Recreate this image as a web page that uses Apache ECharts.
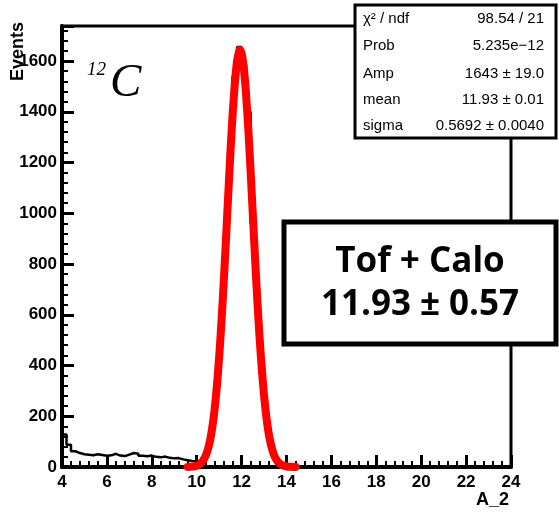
<!DOCTYPE html>
<html><head><meta charset="utf-8">
<script src="https://cdn.jsdelivr.net/npm/echarts@6/dist/echarts.min.js"></script>
<style>html,body{margin:0;padding:0;background:#fff}#c{width:559px;height:512px}</style>
</head><body><div id="c"></div>
<script>
// Histogram: 100 bins of width 0.2 from 4 to 24
const binLow = 4;
const binWidth = 0.2;
const counts = [
  128, 88, 62, 55, 50, 48, 46, 50, 47, 44,
  46, 52, 45, 43, 49, 55, 52, 44, 42, 45,
  40, 38, 41, 36, 34, 35, 30, 27, 24, 22,
  24, 36, 72, 150, 318, 562, 896, 1250, 1540, 1655,
  1585, 1400, 962, 660, 400, 205, 95, 42, 16, 7,
  4, 3, 2, 1, 2, 1, 0, 1, 0, 0,
  1, 0, 0, 0, 0, 0, 0, 0, 0, 0,
  0, 0, 0, 0, 0, 0, 0, 0, 0, 0,
  0, 0, 0, 0, 0, 0, 0, 0, 0, 0,
  0, 0, 0, 0, 0, 0, 0, 0, 0, 0
];
// Gaussian fit curve, read at these x positions
const fitX = [9.6, 9.7, 9.8, 9.9, 10.0, 10.1, 10.2, 10.3, 10.4, 10.5, 10.6, 10.7, 10.8, 10.9,
  11.0, 11.1, 11.2, 11.3, 11.4, 11.5, 11.6, 11.7, 11.8, 11.9, 11.93, 12.0, 12.1, 12.2, 12.3, 12.4,
  12.5, 12.6, 12.7, 12.8, 12.9, 13.0, 13.1, 13.2, 13.3, 13.4, 13.5, 13.6, 13.7, 13.8, 13.9,
  14.0, 14.1, 14.2, 14.3, 14.4];
const fitY = [0.4, 0.8, 1.5, 2.8, 5.2, 9.4, 16.2, 27.2, 44.3, 70, 107, 159, 229, 320,
  432, 567, 722, 891, 1065, 1235, 1389, 1514, 1601, 1641, 1643, 1631, 1571, 1468, 1330, 1168,
  995, 822, 658, 511, 385, 281, 199, 136, 90.7, 58.5, 36.6, 22.2, 13.1, 7.4, 4.1,
  2.2, 1.1, 0.6, 0.3, 0.1];
const statNames = ['χ² / ndf', 'Prob', 'Amp', 'mean', 'sigma'];
const statValues = ['98.54 / 21', '5.235e\u221212', '1643 \u00b1 19.0', '11.93 \u00b1 0.01', '0.5692 \u00b1 0.0040'];
const boxLines = ['Tof + Calo', '11.93 \u00b1 0.57'];

const histData = [];
for (let i = 0; i <= counts.length; i++) {
  histData.push([binLow + i * binWidth, counts[Math.min(i, counts.length - 1)]]);
}
const fitData = fitX.map((x, i) => [x, fitY[i]]);

const statY = [19, 46, 74, 100, 126];
const graphics = [];
// stats box
graphics.push({type: 'rect', z: 100, shape: {x: 355, y: 5, width: 201, height: 133},
  style: {fill: '#fff', stroke: '#000', lineWidth: 3}});
statNames.forEach((n, i) => {
  graphics.push({type: 'text', z: 101, style: {text: n, x: 363, y: statY[i], fill: '#000',
    font: '15px "Liberation Sans"', textAlign: 'left', verticalAlign: 'middle', textVerticalAlign: 'middle'}});
  graphics.push({type: 'text', z: 101, style: {text: statValues[i], x: 544, y: statY[i], fill: '#000',
    font: '15px "Liberation Sans"', textAlign: 'right', verticalAlign: 'middle', textVerticalAlign: 'middle'}});
});
// Tof + Calo box
graphics.push({type: 'rect', z: 100, shape: {x: 284, y: 222, width: 272, height: 122},
  style: {fill: '#fff', stroke: '#000', lineWidth: 5}});
graphics.push({type: 'text', z: 101, style: {text: boxLines[0], x: 420, y: 262, fill: '#000',
  font: 'bold 35px "Open Sans"', textAlign: 'center', verticalAlign: 'middle', textVerticalAlign: 'middle'}});
graphics.push({type: 'text', z: 101, style: {text: boxLines[1], x: 420, y: 305, fill: '#000',
  font: 'bold 35px "Open Sans"', textAlign: 'center', verticalAlign: 'middle', textVerticalAlign: 'middle'}});
// 12C label
graphics.push({type: 'text', z: 101, style: {text: '12', x: 87, y: 70, fill: '#000',
  font: 'italic 19px "Liberation Serif"', textAlign: 'left', verticalAlign: 'middle', textVerticalAlign: 'middle'}});
graphics.push({type: 'text', z: 101, style: {text: 'C', x: 110, y: 84, fill: '#000',
  font: 'italic 47px "Liberation Serif"', textAlign: 'left', verticalAlign: 'middle', textVerticalAlign: 'middle'}});
// axis titles
graphics.push({type: 'text', z: 101, rotation: Math.PI / 2, x: 18, y: 22, style: {text: 'Events', x: 0, y: 0, fill: '#000',
  font: 'bold 18px "Liberation Sans"', textAlign: 'right', verticalAlign: 'middle', textVerticalAlign: 'middle'}});
graphics.push({type: 'text', z: 101, style: {text: 'A_2', x: 509, y: 500, fill: '#000',
  font: 'bold 18px "Liberation Sans"', textAlign: 'right', verticalAlign: 'middle', textVerticalAlign: 'middle'}});

const chart = echarts.init(document.getElementById('c'), null, {renderer: 'canvas'});
chart.setOption({
  animation: false,
  backgroundColor: '#fff',
  grid: {left: 62, right: 48, top: 26, bottom: 45, show: true, borderColor: '#000', borderWidth: 3, backgroundColor: 'transparent'},
  xAxis: {
    type: 'value', min: 4, max: 24, interval: 2,
    axisLine: {show: true, onZero: false, lineStyle: {color: '#000', width: 4}},
    axisTick: {show: true, inside: true, length: 12, lineStyle: {color: '#000', width: 3}},
    minorTick: {show: true, splitNumber: 5, length: 6, lineStyle: {color: '#000', width: 2}},
    splitLine: {show: false},
    axisLabel: {color: '#000', fontSize: 17, fontWeight: 'bold', fontFamily: 'Liberation Sans', margin: 7}
  },
  yAxis: {
    type: 'value', min: 0, max: 1738, interval: 200,
    axisLine: {show: true, lineStyle: {color: '#000', width: 4}},
    axisTick: {show: true, inside: true, length: 12, lineStyle: {color: '#000', width: 3}},
    minorTick: {show: true, splitNumber: 5, length: 6, lineStyle: {color: '#000', width: 2}},
    splitLine: {show: false},
    axisLabel: {color: '#000', fontSize: 17, fontWeight: 'bold', fontFamily: 'Liberation Sans', margin: 5,
      formatter: v => (v % 200 === 0 ? String(v) : '')}
  },
  series: [
    {type: 'line', data: histData, step: 'end', symbol: 'none', z: 2,
      lineStyle: {color: '#000', width: 2.5}},
    {type: 'line', data: fitData, smooth: 0.2, symbol: 'none', z: 3,
      lineStyle: {color: '#ff0000', width: 8, cap: 'round', join: 'round'}}
  ],
  graphic: graphics
});
</script></body></html>
